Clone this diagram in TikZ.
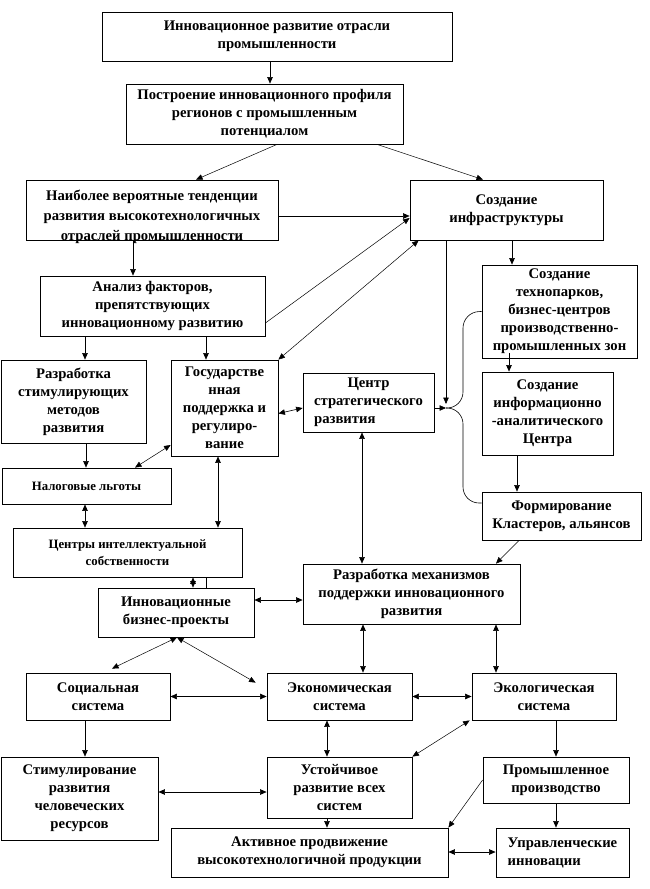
\documentclass[tikz,border=0pt]{standalone}
\usepackage{fontspec}
\usepackage{calc}
\setmainfont{Liberation Serif}
\usetikzlibrary{arrows.meta}
\newcommand\mybox[7][]{\node[box,#1,minimum width={#4-#2},minimum height={#5-#3}] (#6) at ({(#2+#4)/2},{(#3+#5)/2}) {#7};}
\begin{document}
\begin{tikzpicture}[x=1pt,y=-1pt,
  box/.style={draw,line width=0.8pt,inner sep=0pt,align=center,font=\bfseries\fontsize{14.7}{18}\selectfont},
  small/.style={font=\bfseries\fontsize{12.8}{17}\selectfont},
  txt/.style={inner sep=0pt,align=center,font=\bfseries\fontsize{14.7}{20}\selectfont},
  tip/.tip={Triangle[length=6.5pt,width=5.5pt]},
  arr/.style={line width=0.6pt,-tip},
  darr/.style={line width=0.6pt,tip-tip},
  ln/.style={line width=0.6pt}]
\useasboundingbox (0,0) rectangle (650,889);
% boxes
\mybox{102}{12}{452}{61}{b1}{Инновационное развитие отрасли\\промышленности}
\mybox{126}{84}{403}{144}{b2}{Построение инновационного профиля\\регионов с промышленным\\потенциалом}
\mybox{26}{180}{278}{240}{b3}{}
\node[txt] (t3) at ([yshift=-7]b3.center) {Наиболее вероятные тенденции\\развития высокотехнологичных\\отраслей промышленности};
\mybox{410}{180}{603}{240}{b4}{Создание\\инфраструктуры}
\mybox{40}{276}{265}{336}{b5}{Анализ факторов,\\препятствующих\\инновационному развитию}
\mybox{482}{265}{637}{358}{b6}{Создание\\технопарков,\\бизнес-центров\\производственно-\\промышленных зон}
\mybox{1}{360}{146}{443}{b8}{Разработка\\стимулирующих\\методов\\развития}
\mybox{171}{360}{278}{456}{b7}{Государстве\\нная\\поддержка и\\регулиро-\\вание}
\mybox{303}{373}{434}{432}{b9}{Центр\\стратегического\\\makebox[\widthof{стратегического}][l]{развития}}
\mybox{482}{372}{613}{455}{b10}{Создание\\информационно\\-аналитического\\Центра}
\mybox[small]{2}{468}{171}{504}{b11}{Налоговые льготы}
\mybox{482}{492}{641}{540}{b12}{Формирование\\Кластеров, альянсов}
\mybox[small]{13}{528}{242}{577}{b13}{Центры интеллектуальной\\собственности}
\mybox{98}{588}{254}{637}{b14}{Инновационные\\бизнес-проекты}
\mybox{303}{564}{520}{624}{b15}{Разработка механизмов\\поддержки инновационного\\развития}
\mybox{26}{673}{170}{720}{b16}{Социальная\\система}
\mybox{267}{673}{412}{720}{b17}{Экономическая\\система}
\mybox{472}{673}{616}{720}{b18}{Экологическая\\система}
\mybox{1}{757}{158}{840}{b19}{Стимулирование\\развития\\человеческих\\ресурсов}
\mybox{267}{757}{412}{818}{b20}{Устойчивое\\развитие всех\\систем}
\mybox{483}{757}{629}{803}{b21}{Промышленное\\производство}
\mybox{171}{828}{448}{877}{b22}{Активное продвижение\\высокотехнологичной продукции}
\mybox[align=left]{496}{828}{629}{877}{b23}{Управленческие\\инновации}
\coordinate (j) at (446,408);
% connectors
\draw[arr] ([xshift=-7]b1.south) -- ([xshift=5.5]b2.north);
\draw[arr,line width=0.5pt] ([xshift=12.5]b2.south) -- ([xshift=44]b3.north);
\draw[arr,line width=0.5pt] ([xshift=112.5]b2.south) -- ([xshift=-23.5]b4.north);
\draw[arr] ([yshift=-6]b3.east) -- ([yshift=-6]b4.west);
\draw[arr] ([xshift=-19]b3.south) -- ([xshift=-19.5]b5.north);
\draw[arr,line width=0.5pt] ([yshift=-17]b5.east) -- ([yshift=-8]b4.west);
\draw[darr,line width=0.5pt] (b7.north east) -- ([xshift=9]b4.south west);
\draw[arr] ([xshift=-60.5]b4.south) -- ([yshift=4]j);
\draw[arr] ([yshift=-5.5]b9.east) -- (j);
\draw[ln,rounded corners=16pt] (b6.west) -- (463,312) -- (463,408) -- (j);
\draw[ln,rounded corners=16pt] ([yshift=13]b12.west) -- (463,503) -- (463,408) -- (j);
\draw[arr] ([xshift=5.5]b4.south) -- ([xshift=-47.5]b6.north);
\draw[arr] ([xshift=-50.5,yshift=5]b6.south) -- ([xshift=-38.5]b10.north);
\draw[arr] ([xshift=-30.5]b10.south) -- ([xshift=-44.5]b12.north);
\draw[arr,line width=0.5pt] ([xshift=-42.5]b12.south) -- ([xshift=84.5]b15.north);
\draw[arr] ([xshift=-67.5]b5.south) -- ([xshift=11.5]b8.north);
\draw[arr] ([xshift=53.5]b5.south) -- ([xshift=-18.5]b7.north);
\draw[darr] ([yshift=-5.5]b7.east) -- ([yshift=-5.5]b9.west);
\draw[arr] ([xshift=12.5]b8.south) -- ([xshift=-0.5]b11.north);
\draw[darr,line width=0.5pt] ([yshift=-37]b7.west) -- ([xshift=48.5]b11.north);
\draw[darr] ([xshift=-1.5]b11.south) -- ([xshift=-42.5]b13.north);
\draw[darr] ([xshift=-6.5]b7.south) -- ([xshift=90.5]b13.north);
\draw[darr] ([xshift=-6.5]b9.south) -- ([xshift=-49.5]b15.north);
\draw[darr] ([xshift=65.5]b13.south) -- ([xshift=17]b14.north);
\draw[ln] ([xshift=78.5]b13.south) -- ([xshift=30]b14.north);
\draw[darr] ([yshift=12.5]b14.east) -- ([yshift=-6]b15.west);
\draw[darr,line width=0.5pt] ([xshift=1]b14.south) -- ([xshift=14,yshift=4]b16.north);
\draw[darr,line width=0.5pt] ([xshift=1]b14.south) -- ([xshift=-11,yshift=-10]b17.north west);
\draw[darr] ([xshift=-48.5]b15.south) -- ([xshift=23.5]b17.north);
\draw[darr] ([xshift=84.5]b15.south) -- ([xshift=-48]b18.north);
\draw[darr] (b16.east) -- (b17.west);
\draw[darr] (b17.east) -- (b18.west);
\draw[arr] ([xshift=-13]b16.south) -- ([xshift=5.5]b19.north);
\draw[darr] ([xshift=-12.5]b17.south) -- ([xshift=-12.5]b20.north);
\draw[darr,line width=0.5pt] ([xshift=-2]b18.south west) -- (b20.north east);
\draw[darr] ([yshift=6.5]b19.east) -- ([yshift=-4.5]b20.west);
\draw[arr] ([xshift=12]b18.south) -- (b21.north);
\draw[arr] ([xshift=-12.5]b20.south) -- ([xshift=17.5]b22.north);
\draw[arr,line width=0.5pt] (b21.west) -- (b22.north east);
\draw[arr] (b21.south) -- ([xshift=-6.5]b23.north);
\draw[darr] ([yshift=0.5]b22.east) -- ([yshift=0.5]b23.west);
\end{tikzpicture}
\end{document}
